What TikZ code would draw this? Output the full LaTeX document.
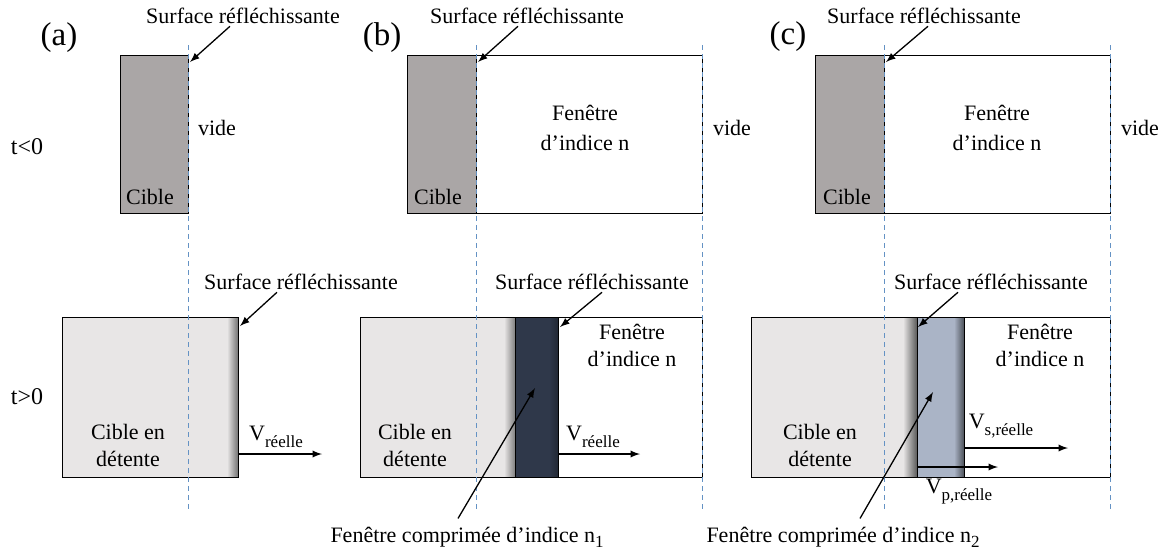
\documentclass[tikz,border=0pt]{standalone}
\usepackage{fontspec}
\setmainfont{Liberation Serif}
\usetikzlibrary{arrows}
\definecolor{cible}{RGB}{170,166,166}
\definecolor{detente}{RGB}{232,230,230}
\definecolor{comprun}{RGB}{47,56,74}
\definecolor{comprdeux}{RGB}{170,180,198}
\definecolor{surf}{RGB}{100,146,196}
\newcommand{\vitesse}[1]{V\raisebox{-3.5pt}{\fontsize{8.5}{9}\selectfont #1}}
\newcommand{\indn}[1]{n\raisebox{-2.5pt}{\fontsize{8.5}{9}\selectfont #1}}
\tikzset{
	lbl/.style={font=\fontsize{11}{13.5}\selectfont, inner sep=1pt, align=center},
	panel/.style={font=\fontsize{16.5}{18}\selectfont, inner sep=1pt},
	bord/.style={draw=black, line width=0.5pt},
	surface/.style={draw=surf, line width=0.45pt, dash pattern=on 2.5pt off 2pt},
	pointer/.style={-latex, line width=0.65pt}
}
\begin{document}
\begin{tikzpicture}[x=0.5pt,y=-0.5pt]
	\useasboundingbox (0,0) rectangle (1171,558);
	\node[panel] (pa) at (59,38) {(a)};
	\node[panel] (pb) at (382,38) {(b)};
	\node[panel] (pc) at (788,37) {(c)};
	\node[lbl, font=\fontsize{12}{14}\selectfont] (tneg) at (27,147) {t<0};
	\node[lbl, font=\fontsize{12}{14}\selectfont] (tpos) at (27,397) {t>0};

	% t<0
	\draw[bord, fill=cible] (120,55) rectangle (188,213);
	\draw[bord, fill=cible] (407,55) rectangle (476,213);
	\draw[bord, fill=white] (476,55) rectangle (702,213);
	\draw[bord, fill=cible] (815,55) rectangle (884,213);
	\draw[bord, fill=white] (884,55) rectangle (1110,213);
	\node[lbl] (cia) at (150,197) {Cible};
	\node[lbl] (cib) at (438,197) {Cible};
	\node[lbl] (cic) at (847,197) {Cible};
	\node[lbl] (vida) at (217,128) {vide};
	\node[lbl] (vidb) at (732,128) {vide};
	\node[lbl] (vidc) at (1140,128) {vide};
	\node[lbl] (fenb) at (585,128) {Fenêtre\\[1.5pt]d’indice n};
	\node[lbl] (fenc) at (997,128) {Fenêtre\\[1.5pt]d’indice n};

	% t>0
	\fill[detente] (62,317) rectangle (238,477);
	\shade[left color=detente, right color=black!55] (227,317) rectangle (238,477);
	\draw[bord] (62,317) rectangle (238,477);

	\fill[detente] (360,317) rectangle (515,477);
	\shade[left color=detente, right color=black!50] (504,317) rectangle (515,477);
	\fill[comprun] (515,317) rectangle (558,477);
	\shade[left color=comprun, right color=comprun!70!black] (549,317) rectangle (558,477);
	\draw[bord] (515,317) -- (515,477) (558,317) -- (558,477);
	\draw[bord] (360,317) rectangle (702,477);

	\fill[detente] (751,317) rectangle (917,477);
	\shade[left color=detente, right color=black!65] (903,317) rectangle (917,477);
	\fill[comprdeux] (917,317) rectangle (964,477);
	\shade[left color=comprdeux, right color=comprdeux!45!black] (954,317) rectangle (964,477);
	\draw[bord] (917,317) -- (917,477) (964,317) -- (964,477);
	\draw[bord] (751,317) rectangle (1110,477);

	\node[lbl] (cda) at (128,445) {Cible en\\détente};
	\node[lbl] (cdb) at (415,445) {Cible en\\détente};
	\node[lbl] (cdc) at (820,445) {Cible en\\détente};
	\node[lbl] (fenbb) at (632,345) {Fenêtre\\d’indice n};
	\node[lbl] (fencb) at (1040,345) {Fenêtre\\d’indice n};

	% surfaces
	\foreach \xs in {188,476,702,884,1110}
		\draw[surface] (\xs,45) -- (\xs,512);

	% fleches vers les surfaces
	\node[lbl] (sfa) at (243,16) {Surface réfléchissante};
	\node[lbl] (sfb) at (527,16) {Surface réfléchissante};
	\node[lbl] (sfc) at (924,16) {Surface réfléchissante};
	\node[lbl] (sfab) at (301,282) {Surface réfléchissante};
	\node[lbl] (sfbb) at (592,282) {Surface réfléchissante};
	\node[lbl] (sfcb) at (991,282) {Surface réfléchissante};
	\coordinate (ta) at (190,62);
	\coordinate (tb) at (478,62);
	\coordinate (tc) at (886,62);
	\coordinate (tab) at (240,326);
	\coordinate (tbb) at (560,327);
	\coordinate (tcb) at (918,327);
	\draw[pointer] ([xshift=-6.5pt]sfa.south) -- (ta);
	\draw[pointer] ([xshift=-4.5pt]sfb.south) -- (tb);
	\draw[pointer] ([xshift=2pt]sfc.south) -- (tc);
	\draw[pointer] ([xshift=-12pt]sfab.south) -- (tab);
	\draw[pointer] ([xshift=5pt]sfbb.south) -- (tbb);
	\draw[pointer] ([xshift=-16.5pt]sfcb.south) -- (tcb);

	% fenetres comprimees
	\node[lbl] (nun) at (467,537) {Fenêtre comprimée d’indice \indn{1}};
	\node[lbl] (ndeux) at (843,537) {Fenêtre comprimée d’indice \indn{2}};
	\coordinate (sun) at (535,388);
	\coordinate (sdeux) at (933,392);
	\draw[pointer] ([xshift=-4.5pt,yshift=3pt]nun.north) -- (sun);
	\draw[pointer] ([xshift=8.5pt,yshift=3pt]ndeux.north) -- (sdeux);

	% vitesses
	\coordinate (va0) at (238,454);
	\coordinate (va1) at (322,454);
	\coordinate (vb0) at (558,454);
	\coordinate (vb1) at (640,454);
	\coordinate (vs0) at (964,448);
	\coordinate (vs1) at (1068,448);
	\coordinate (vp0) at (917,467);
	\coordinate (vp1) at (998,467);
	\draw[pointer] (va0) -- (va1);
	\draw[pointer] (vb0) -- (vb1);
	\draw[pointer] (vs0) -- (vs1);
	\draw[pointer] (vp0) -- (vp1);
	\node[lbl] (vra) at (276,437) {\vitesse{réelle}};
	\node[lbl] (vrb) at (593,437) {\vitesse{réelle}};
	\node[lbl] (vrs) at (1001,426) {\vitesse{s,réelle}};
	\node[lbl] (vrp) at (959,492) {\vitesse{p,réelle}};
\end{tikzpicture}
\end{document}
